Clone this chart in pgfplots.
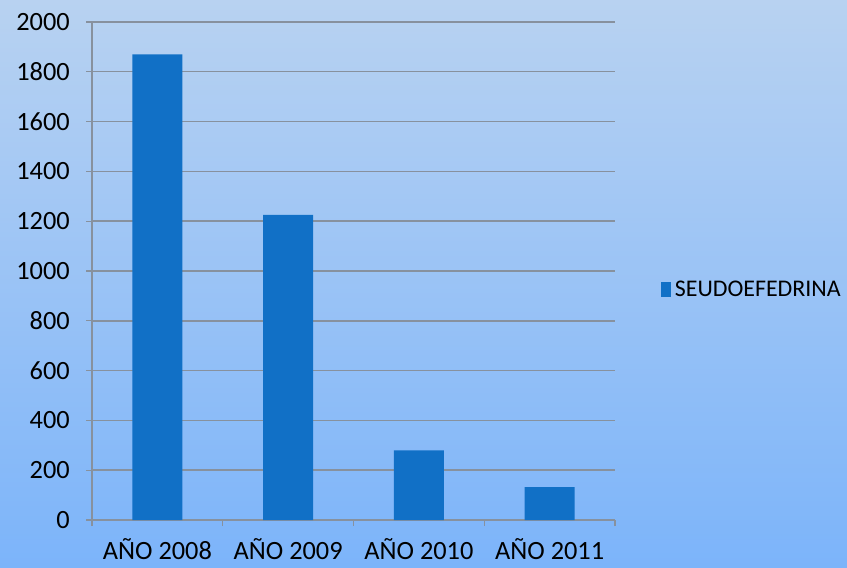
\documentclass[border=0pt]{standalone}
\usepackage{pgfplots}
\pgfplotsset{compat=1.18}
\usepackage{fontspec}
\setmainfont{Carlito}
\definecolor{bgtop}{RGB}{184,210,241}
\definecolor{bgbot}{RGB}{124,180,250}
\definecolor{barblue}{RGB}{17,112,198}
\definecolor{gridc}{RGB}{135,145,158}
\begin{document}
\begin{tikzpicture}[x=1cm,y=1cm]
\shade[top color=bgtop, bottom color=bgbot] (0,0) rectangle (16.94,11.34);
\useasboundingbox (0,0) rectangle (16.94,11.34);
\begin{axis}[
  at={(1.84cm,0.94cm)}, anchor=south west,
  scale only axis, width=10.46cm, height=9.96cm,
  ybar, bar width=1.0cm,
  xmin=-0.5, xmax=3.5, ymin=0, ymax=2000,
  ytick={0,200,...,2000},
  xtick={0,1,2,3},
  xticklabels={AÑO 2008, AÑO 2009, AÑO 2010, AÑO 2011},
  minor xtick={-0.5,0.5,1.5,2.5,3.5},
  major x tick style={draw=none},
  minor tick length=0.12cm,
  major tick length=0.12cm,
  tick align=outside,
  every tick/.style={gridc, line width=0.6pt},
  axis x line*=bottom, axis y line*=left,
  axis line style={gridc, line width=0.8pt, -},
  ymajorgrids, grid style={gridc, line width=0.8pt},
  tick label style={font=\fontsize{15}{17}\selectfont, black},
  /pgf/number format/assume math mode=true,
  yticklabel style={xshift=-0.2cm, /pgf/number format/.cd, fixed, 1000 sep={}},
  xticklabel style={yshift=-0.12cm},
  legend style={at={(axis description cs:1.077,0.462)}, anchor=west, draw=none, fill=none,
    font=\fontsize{13.6}{16}\selectfont, legend cell align=left},
  legend image code/.code={\fill[barblue] (-0.1cm,-0.15cm) rectangle (0.11cm,0.15cm);},
]
\addplot[fill=barblue, draw=none] coordinates {(0,1870) (1,1225) (2,280) (3,132)};
\addlegendentry{SEUDOEFEDRINA}
\end{axis}
\end{tikzpicture}
\end{document}
